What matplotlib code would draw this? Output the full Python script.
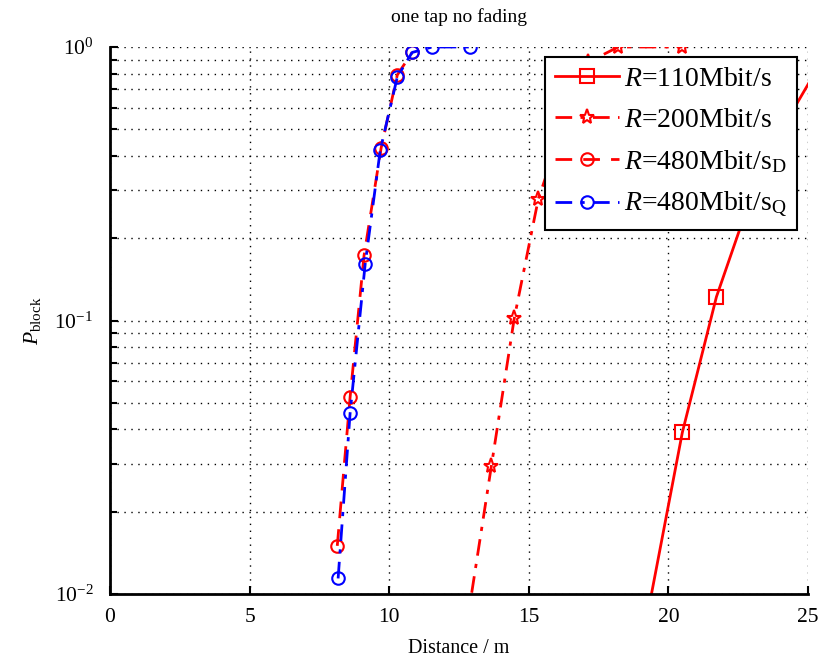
import matplotlib
matplotlib.use("Agg")
import matplotlib.pyplot as plt
from matplotlib.ticker import LogLocator, NullFormatter, FixedLocator

plt.rcParams['font.family'] = ['Liberation Serif', 'DejaVu Serif']
plt.rcParams['mathtext.fontset'] = 'custom'
plt.rcParams['mathtext.rm'] = 'Liberation Serif'
plt.rcParams['mathtext.it'] = 'Liberation Serif:italic'
plt.rcParams['mathtext.bf'] = 'Liberation Serif:bold'

# Data
d110 = [19.28, 20.5, 21.72, 22.94, 24.16, 25.38]
p110 = [0.0087, 0.039, 0.122, 0.28, 0.52, 0.85]

d200 = [12.75, 13.66, 14.48, 15.34, 16.2, 17.13, 18.2, 20.5]
p200 = [0.0074, 0.0294, 0.102, 0.278, 0.505, 0.88, 1.0, 1.0]

d480D = [8.14, 8.6, 9.1, 9.71, 10.29, 10.82]
p480D = [0.015, 0.0525, 0.173, 0.427, 0.79, 0.955]

d480Q = [8.17, 8.6, 9.14, 9.68, 10.29, 10.82, 11.54, 12.9]
p480Q = [0.0114, 0.0459, 0.161, 0.42, 0.777, 0.955, 1.0, 1.0]

labels = [r'$\mathit{R}$=110Mbit/s', r'$\mathit{R}$=200Mbit/s',
          r'$\mathit{R}$=480Mbit/s$_{\mathrm{D}}$', r'$\mathit{R}$=480Mbit/s$_{\mathrm{Q}}$']

fig = plt.figure(figsize=(8.23, 6.65), dpi=100)
ax = fig.add_axes([110/823, 71/665, 698/823, 547/665])

dashdot = (0, (6, 3, 1.5, 3))
ax.plot(d110, p110, color='red', ls='-', lw=2, marker='s', ms=10, mfc='none', mew=1.5, label=labels[0])
ax.plot(d200, p200, color='red', ls=dashdot, lw=2, marker='*', ms=11, mfc='none', mew=1.5, label=labels[1])
ax.plot(d480D, p480D, color='red', ls=(0, (6, 4)), lw=2, marker='o', ms=9, mfc='none', mew=1.5, label=labels[2])
ax.plot(d480Q, p480Q, color='blue', ls=dashdot, lw=2, marker='o', ms=9, mfc='none', mew=1.5, label=labels[3])

ax.set_yscale('log')
ax.set_xlim(0, 25)
ax.set_ylim(0.01, 1)
ax.xaxis.set_major_locator(FixedLocator([0, 5, 10, 15, 20, 25]))
ax.yaxis.set_major_locator(LogLocator(base=10))
ax.yaxis.set_minor_locator(LogLocator(base=10, subs=range(2, 10)))
ax.yaxis.set_minor_formatter(NullFormatter())

for s in ['top', 'right']:
    ax.spines[s].set_visible(False)
for s in ['left', 'bottom']:
    ax.spines[s].set_linewidth(2)

ax.tick_params(which='major', direction='in', length=6, width=1.5, labelsize=15.5)
ax.tick_params(axis='x', which='major', pad=10)
ax.tick_params(axis='y', which='major', pad=12)
ax.tick_params(which='minor', direction='in', length=5, width=1.5)
ax.tick_params(top=False, right=False)

ax.grid(True, which='major', axis='both', color='black', ls=(0, (1, 4)), lw=1)
ax.grid(True, which='minor', axis='y', color='black', ls=(0, (1, 4)), lw=1)

ax.set_title('one tap no fading', fontsize=14, pad=18)
ax.set_xlabel('Distance / m', fontsize=14.5, labelpad=9)
ax.set_ylabel(r'$\mathit{P}_{\mathrm{block}}$', fontsize=15.5, labelpad=8)

leg = ax.legend(loc='upper right', bbox_to_anchor=(687/698, 537/547), fontsize=20,
                frameon=True, fancybox=False, edgecolor='black', framealpha=1,
                handlelength=2.3, borderpad=0.35, labelspacing=0.55, handletextpad=0.2,
                borderaxespad=0)
leg.get_frame().set_linewidth(1.5)

fig.savefig('out.png', dpi=100)
